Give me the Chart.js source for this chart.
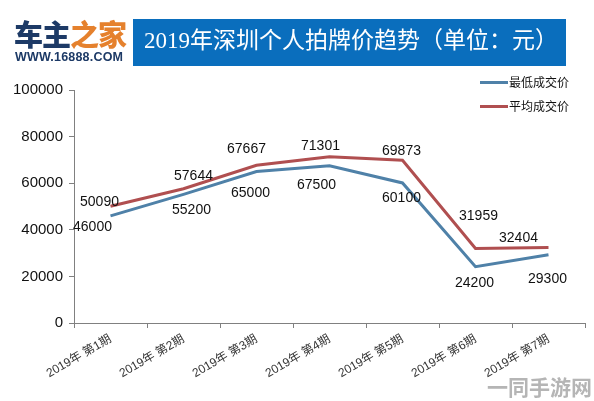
<!DOCTYPE html>
<html>
<head>
<meta charset="utf-8">
<script src="https://cdn.jsdelivr.net/npm/chart.js@4"></script>
<style>
html, body { margin: 0; padding: 0; background: #fff; }
#wrap { position: relative; width: 594px; height: 401px; overflow: hidden; font-family: "Noto Sans CJK SC", sans-serif; }
#wrap div { position: absolute; white-space: nowrap; }
#logo1 { left: 14px; top: 15px; font-size: 29px; line-height: 36px; font-weight: 900; letter-spacing: -1px; color: #1d3a66; }
#logo1 span { color: #e5812d; }
#logo2 { left: 15px; top: 50px; font: bold 12.5px "Liberation Sans", sans-serif; letter-spacing: .2px; color: #1d3a66; }
#bar { left: 133px; top: 19px; width: 433px; height: 47px; background: #0a6ebd; }
#title { left: 144px; top: 24px; font: 23px/34px "Liberation Serif", "Noto Sans CJK SC", serif; color: #fff; }
.key { left: 480px; width: 28px; height: 3px; }
.keytext { left: 509px; font-size: 12px; line-height: 16px; color: #111; }
#mark { left: 487px; top: 373px; font-size: 21px; line-height: 26px; font-weight: 700; color: #b5b5b5; }
canvas { position: absolute; left: 0; top: 0; }
</style>
</head>
<body>
<div id="wrap">
  <canvas id="lineChart" width="594" height="401"></canvas>
  <div id="logo1">车主<span>之家</span></div>
  <div id="logo2">WWW.16888.COM</div>
  <div id="bar"></div>
  <div id="title">2019年深圳个人拍牌价趋势（单位：元）</div>
  <div class="key" style="top:81px;background:#4f81a8"></div>
  <div class="keytext" style="top:74px">最低成交价</div>
  <div class="key" style="top:105px;background:#b04f50"></div>
  <div class="keytext" style="top:98px">平均成交价</div>
  <div id="mark">一同手游网</div>
</div>
<script>
"use strict"

const periods = ['2019年 第1期', '2019年 第2期', '2019年 第3期', '2019年 第4期', '2019年 第5期', '2019年 第6期', '2019年 第7期'];
const lowest = [46000, 55200, 65000, 67500, 60100, 24200, 29300];
const average = [50090, 57644, 67667, 71301, 69873, 31959, 32404];
const yTicks = [0, 20000, 40000, 60000, 80000, 100000];

// flyttar varje etikett från sin punkt, [dx, dy]
const lowestShift = [[-18, 11], [8, 16], [-6, 22], [-13, 19], [-1, 15], [-1, 17], [-1, 24]];
const averageShift = [[-11, -4], [10, -13], [-10, -16], [-9, -11], [-1, -9], [3, -32], [-30, -9]];

// ritar värdena bredvid linjerna
const valueLabels = {
  id: 'valueLabels',
  afterDatasetsDraw(chart) {
    const ctx = chart.ctx;
    const shifts = [lowestShift, averageShift];
    ctx.save();
    ctx.font = '14px "Liberation Sans", sans-serif';
    ctx.fillStyle = '#111';
    ctx.textAlign = 'center';
    ctx.textBaseline = 'middle';
    chart.data.datasets.forEach((set, s) => {
      chart.getDatasetMeta(s).data.forEach((point, i) => {
        ctx.fillText(set.data[i], point.x + shifts[s][i][0], point.y + shifts[s][i][1]);
      });
    });
    ctx.restore();
  }
};

new Chart(document.getElementById('lineChart'), {
  type: 'line',
  plugins: [valueLabels],
  data: {
    labels: periods,
    datasets: [
      { label: '最低成交价', data: lowest, borderColor: '#4f81a8', borderWidth: 3, pointRadius: 0, tension: 0 },
      { label: '平均成交价', data: average, borderColor: '#b04f50', borderWidth: 3, pointRadius: 0, tension: 0 }
    ]
  },
  options: {
    responsive: false,
    animation: false,
    layout: { padding: { top: 90, right: 9, bottom: 0, left: 0 } },
    plugins: { legend: { display: false }, tooltip: { enabled: false } },
    scales: {
      x: {
        offset: true,
        afterFit(axis) { axis.height = 78; },
        border: { color: '#808080', width: 1 },
        grid: { drawOnChartArea: false, color: '#808080', tickLength: 5, offset: true },
        ticks: { minRotation: 30, maxRotation: 30, padding: 4, color: '#333', font: { size: 12, family: '"Liberation Sans", "Noto Sans CJK SC", sans-serif' } }
      },
      y: {
        min: 0,
        max: 100000,
        afterBuildTicks(axis) { axis.ticks = yTicks.map(v => ({ value: v })); },
        afterFit(axis) { axis.width = 74; },
        border: { color: '#808080', width: 1 },
        grid: { drawOnChartArea: false, color: '#808080', tickLength: 5 },
        ticks: { padding: 6, color: '#111', callback: v => String(v), font: { size: 15, family: '"Liberation Sans", sans-serif' } }
      }
    }
  }
});
</script>
</body>
</html>
